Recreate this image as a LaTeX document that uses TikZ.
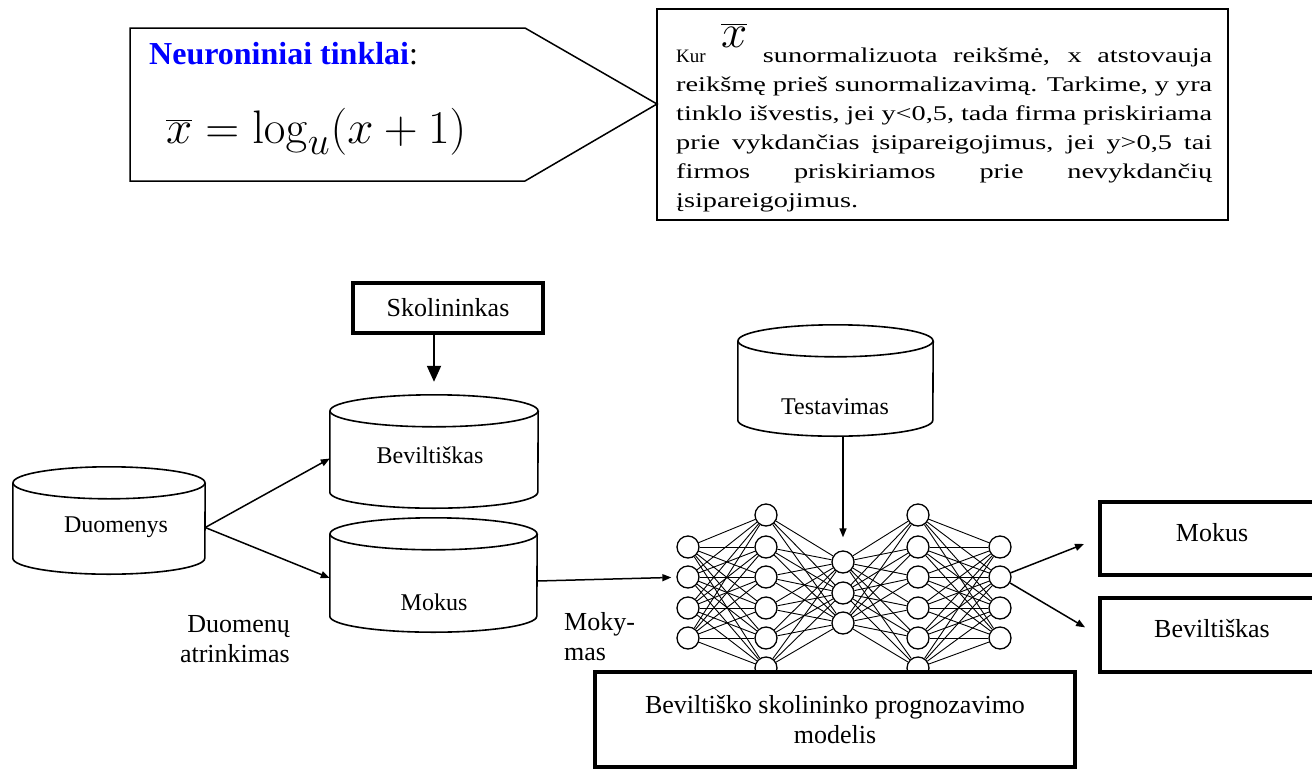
\documentclass[tikz,border=0pt]{standalone}
\usepackage{graphicx}
\usepackage[no-math]{fontspec}
\setmainfont{Liberation Serif}
\newfontfamily\widefont[FakeStretch=1.35]{Liberation Serif}
\usetikzlibrary{arrows.meta}

% drum (database) outline round a named body node
\newcommand{\drum}[3]{%
  \draw[drumline] (#1.north west) -- (#1.south west)
    arc[start angle=180, end angle=360, x radius=#2, y radius=#3] -- (#1.north east);
  \draw[drumline] (#1.north) ellipse[x radius=#2, y radius=#3];
}
% big math, set at the largest cm size and scaled
\newcommand{\bigmath}[1]{\scalebox{1.89}{\fontsize{24.88}{25}\selectfont$#1$}}

\tikzset{
  drumline/.style={line width=1.6pt},
  drumbody/.style={rectangle, inner sep=0pt},
  lbl/.style={inner sep=0pt, font=\fontsize{24}{29}\selectfont},
  biglbl/.style={inner sep=0pt, font=\fontsize{26}{30}\selectfont},
  thickbox/.style={draw, line width=4pt, fill=white, inner sep=0pt, font=\fontsize{26}{30}\selectfont},
  neuron/.style={circle, draw, line width=1.3pt, fill=white, minimum size=22pt, inner sep=0pt},
  syn/.style={line width=0.9pt},
  arr/.style={line width=1.5pt, -{Triangle[width=7pt,length=9pt]}},
  bigarr/.style={line width=1.8pt, -{Triangle[width=14pt,length=16pt]}},
}

\begin{document}
\begin{tikzpicture}[x=1pt, y=-1pt]
\useasboundingbox (0,0) rectangle (1312,769);

% callout with the formula
\draw[line width=1.5pt] (130,28) -- (525,28) -- (657,104) -- (525,181) -- (130,181) -- cycle;
\node[anchor=base west, inner sep=0pt, font=\fontsize{32}{32}\selectfont] (title) at (149,64)
  {\textcolor{blue}{\bfseries Neuroniniai tinklai}:};
\node[anchor=west, inner sep=0pt] (formula) at (166,132)
  {\bigmath{\overline{x}=\log_u(x+1)}};

% explanation box
\node[draw, line width=1.5pt, minimum width=571pt, minimum height=211pt, inner sep=0pt] (note) at (942.5,114.5) {};
\foreach \t [count=\i] in {
  {{\rmfamily\fontsize{19}{19}\selectfont Kur} \smash{\raisebox{15pt}{\bigmath{\overline{x}}}} sunormalizuota reikšmė, x atstovauja},
  {reikšmę prieš sunormalizavimą. Tarkime, y yra},
  {tinklo išvestis, jei y<0,5, tada firma priskiriama},
  {prie vykdančias įsipareigojimus, jei y>0,5 tai},
  {firmos priskiriamos prie nevykdančių},
  {įsipareigojimus.\hfill}}
  \node[anchor=base west, inner sep=0pt, font=\widefont\fontsize{21}{29}\selectfont] (line\i) at (676,33+29*\i)
    {\makebox[536pt][s]{\t}};

% data drums
\node[drumbody, minimum width=192pt, minimum height=75pt] (duom) at (109,520.5) {};
\node[lbl] (duomtxt) at (116,527) {Duomenys};
\node[drumbody, minimum width=208pt, minimum height=81pt] (bev) at (434,451.5) {};
\node[lbl] (bevtxt) at (430,455) {Beviltiškas};
\node[drumbody, minimum width=207pt, minimum height=82pt] (mok) at (433.5,575) {};
\node[lbl] (moktxt) at (434,602) {Mokus};
\node[drumbody, minimum width=195pt, minimum height=79pt] (test) at (835.5,380.5) {};
\node[lbl] (testtxt) at (835,407) {Testavimas};
\drum{duom}{96pt}{16pt}
\drum{bev}{104pt}{16pt}
\drum{mok}{103.5pt}{16pt}
\drum{test}{97.5pt}{16pt}

\node[thickbox, minimum width=190pt, minimum height=50pt] (skol) at (448,308) {Skolininkas};

\node[biglbl, align=right, anchor=east] (atrink) at (290,639) {Duomenų\\atrinkimas};
\node[biglbl, align=left, anchor=west] (mokym) at (564,637) {Moky-\\mas};

% network
\foreach \y [count=\i] in {547,577,608,638} \node[neuron] (a\i) at (688,\y) {};
\foreach \y [count=\i] in {515,547,577,608,638,668} \node[neuron] (b\i) at (766,\y) {};
\foreach \y [count=\i] in {562,593,623} \node[neuron] (c\i) at (843,\y) {};
\foreach \y [count=\i] in {515,547,577,608,638,668} \node[neuron] (d\i) at (918,\y) {};
\foreach \y [count=\i] in {547,577,608,638} \node[neuron] (e\i) at (1000,\y) {};
\foreach \i in {1,...,4} \foreach \j in {1,...,6} {
  \draw[syn] (a\i) -- (b\j);
  \draw[syn] (d\j) -- (e\i);
}
\foreach \i in {1,...,6} \foreach \j in {1,...,3} {
  \draw[syn] (b\i) -- (c\j);
  \draw[syn] (c\j) -- (d\i);
}

\node[thickbox, minimum width=480pt, minimum height=95pt, align=center] (model) at (835,719.5)
  {Beviltiško skolininko prognozavimo\\modelis};
\node[thickbox, minimum width=224pt, minimum height=73pt, text depth=12pt] (outmok) at (1212,538.5) {Mokus};
\node[thickbox, minimum width=224pt, minimum height=74pt, text depth=14pt] (outbev) at (1212,635) {Beviltiškas};

% arrows
\draw[bigarr, shorten >=29pt] (skol.south -| bev.north) -- (bev.north);
\draw[arr] ([yshift=-7pt]duom.east) -- ([yshift=-7pt]bev.west);
\draw[arr] ([yshift=-7pt]duom.east) -- ([yshift=-3pt]mok.west);
\draw[arr, shorten >=5pt] ([yshift=-6pt]mok.east) -- (a2);
\draw[arr, shorten >=13pt] ([yshift=-16pt]test.south -| c1) -- (c1);
\draw[arr, shorten >=15pt] (e2) -- (outmok.west);
\draw[arr, shorten >=15pt] (e2) -- (outbev.west);
\end{tikzpicture}
\end{document}
